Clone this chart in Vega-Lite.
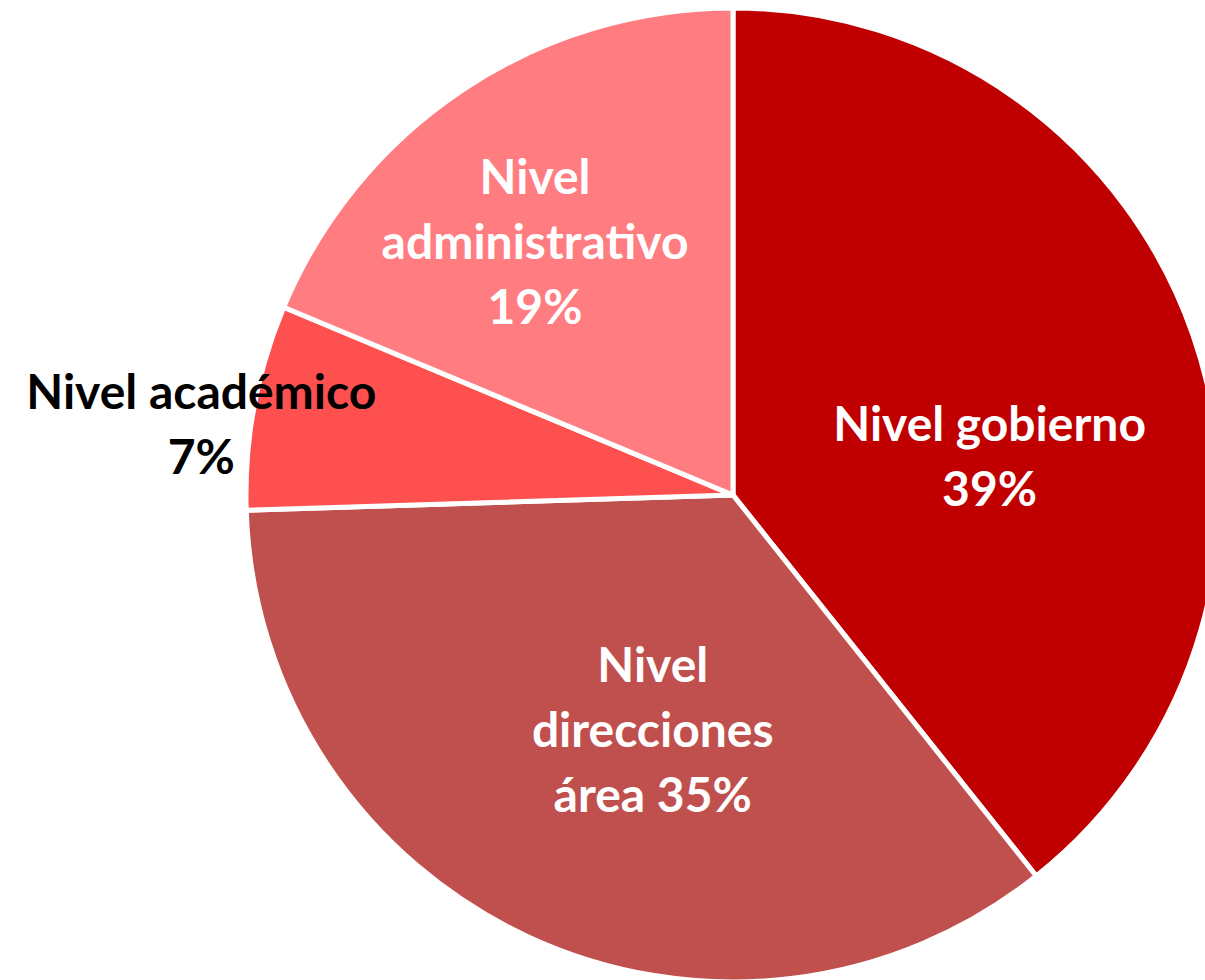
{
  "$schema": "https://vega.github.io/schema/vega-lite/v6.json",
  "width": 974,
  "height": 974,
  "autosize": {"type": "none"},
  "padding": {"left": 246, "top": 8, "right": -15, "bottom": -2},
  "background": "white",
  "view": {"stroke": null},
  "data": {
    "values": [
      {"cat": "Nivel gobierno", "pct": 39.3, "orden": 1, "label": "Nivel gobierno\n39%"},
      {"cat": "Nivel direcciones área", "pct": 35.2, "orden": 2, "label": "Nivel\ndirecciones\nárea 35%"},
      {"cat": "Nivel académico", "pct": 6.8, "orden": 3, "label": "Nivel académico\n7%"},
      {"cat": "Nivel administrativo", "pct": 18.7, "orden": 4, "label": "Nivel\nadministrativo\n19%"}
    ]
  },
  "encoding": {
    "theta": {"field": "pct", "type": "quantitative", "stack": true},
    "order": {"field": "orden", "type": "quantitative", "sort": "ascending"}
  },
  "layer": [
    {
      "mark": {"type": "arc", "outerRadius": 487, "stroke": "white", "strokeWidth": 5},
      "encoding": {
        "color": {
          "field": "cat",
          "type": "nominal",
          "scale": {
            "domain": ["Nivel gobierno", "Nivel direcciones área", "Nivel académico", "Nivel administrativo"],
            "range": ["#C00000", "#C0504D", "#FF5050", "#FF7C80"]
          },
          "legend": null
        }
      }
    },
    {
      "mark": {
        "type": "text",
        "font": "Lato",
        "fontWeight": "bold",
        "fontSize": 48,
        "lineBreak": "\n",
        "lineHeight": 65,
        "align": "center",
        "baseline": "middle",
        "dy": {"expr": "-(length(split(datum.label, '\\n')) - 1) * 32.5"},
        "radius": {"expr": "datum.cat == 'Nivel académico' ? 536 : datum.cat == 'Nivel administrativo' ? 319 : datum.cat == 'Nivel gobierno' ? 259 : 251"},
        "thetaOffset": {"expr": "datum.cat == 'Nivel gobierno' ? 0.20 : datum.cat == 'Nivel direcciones área' ? -0.108 : datum.cat == 'Nivel académico' ? -0.056 : -0.082"}
      },
      "encoding": {
        "text": {"field": "label", "type": "nominal"},
        "color": {
          "condition": {"test": "datum.cat == 'Nivel académico'", "value": "black"},
          "value": "white"
        }
      }
    }
  ]
}
